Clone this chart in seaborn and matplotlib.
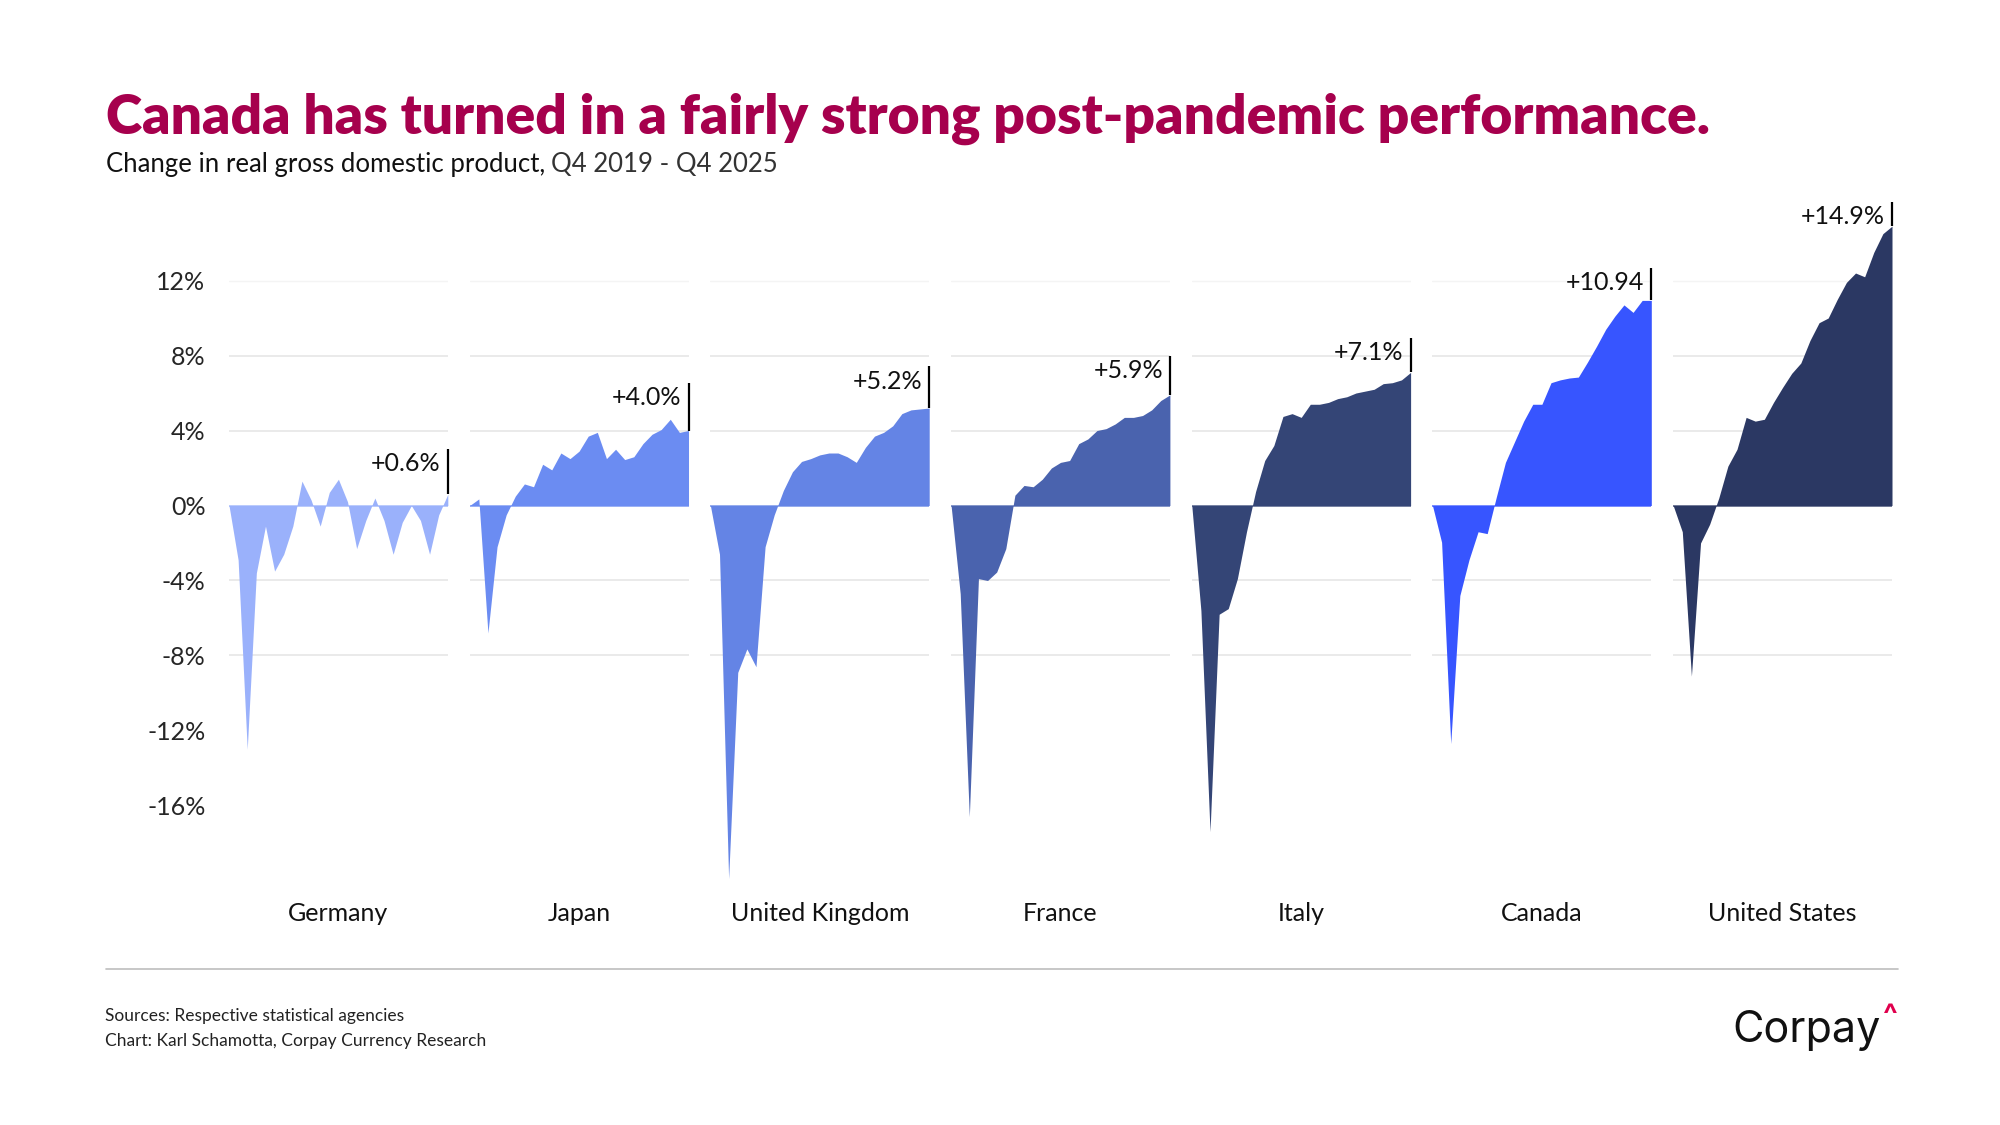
# small multiples of real GDP change since Q4 2019, one area panel per country

import pandas as pd
import matplotlib.pyplot as plt
import seaborn as sns

countries = ['Germany', 'Japan', 'United Kingdom', 'France', 'Italy', 'Canada', 'United States']

quarters = ['Q4 2019'] + ['Q%d %d' % (q, y) for y in range(2020, 2026) for q in range(1, 5)]

germany = [0, -2.9, -13.0, -3.6, -1.1, -3.5, -2.6, -1.1, 1.3, 0.3, -1.1, 0.7, 1.4,
           0.2, -2.3, -0.8, 0.4, -0.8, -2.6, -0.9, 0.0, -0.8, -2.6, -0.5, 0.6]
japan = [0, 0.35, -6.8, -2.2, -0.5, 0.5, 1.15, 1.0, 2.2, 1.9, 2.8, 2.5, 2.9,
         3.7, 3.9, 2.5, 3.0, 2.45, 2.6, 3.3, 3.8, 4.05, 4.6, 3.9, 4.0]
uk = [0, -2.6, -19.9, -8.9, -7.65, -8.6, -2.2, -0.5, 0.8, 1.8, 2.35, 2.5, 2.7,
      2.8, 2.8, 2.6, 2.3, 3.1, 3.7, 3.9, 4.25, 4.9, 5.1, 5.15, 5.2]
france = [0, -4.7, -16.6, -3.9, -4.0, -3.55, -2.3, 0.55, 1.07, 1.0, 1.4, 2.0, 2.3,
          2.4, 3.3, 3.55, 4.0, 4.1, 4.35, 4.7, 4.7, 4.8, 5.1, 5.6, 5.9]
italy = [0, -5.6, -17.4, -5.8, -5.5, -3.9, -1.4, 0.75, 2.4, 3.2, 4.75, 4.9, 4.7,
         5.4, 5.4, 5.5, 5.7, 5.8, 6.0, 6.1, 6.2, 6.5, 6.55, 6.7, 7.1]
canada = [0, -1.96, -12.7, -4.8, -2.9, -1.4, -1.5, 0.45, 2.3, 3.4, 4.5, 5.4, 5.4,
          6.55, 6.7, 6.8, 6.85, 7.65, 8.5, 9.4, 10.1, 10.7, 10.3, 10.94, 10.94]
us = [0, -1.4, -9.1, -2.0, -1.0, 0.4, 2.1, 3.0, 4.7, 4.5, 4.6, 5.5, 6.3,
      7.05, 7.6, 8.8, 9.75, 10.0, 11.0, 11.9, 12.4, 12.2, 13.5, 14.5, 14.9]

end_labels = ['+0.6%', '+4.0%', '+5.2%', '+5.9%', '+7.1%', '+10.94', '+14.9%']

ytick_values = [-16, -12, -8, -4, 0, 4, 8, 12]
ytick_labels = ['-16%', '-12%', '-8%', '-4%', '0%', '4%', '8%', '12%']

series = [germany, japan, uk, france, italy, canada, us]

colors = {'Germany': '#9AB1FB', 'Japan': '#6B8CF2', 'United Kingdom': '#6484E5',
          'France': '#4A63AE', 'Italy': '#344576', 'Canada': '#3755FF',
          'United States': '#2B3863'}

# how high the end label sits above the last value, in % units
label_lift = [1.65, 1.76, 1.44, 1.28, 1.07, 0.96, 0.53]

rows = []
for name, vals in zip(countries, series):
    for i, v in enumerate(vals):
        rows.append({'country': name, 'q': i, 'quarter': quarters[i], 'value': v})
df = pd.DataFrame(rows)

sns.set_theme(style='white')
plt.rcParams['font.family'] = ['Lato', 'DejaVu Sans']

crimson = '#A6004D'
gridc = '#e4e4e4'


def draw_area(data, color, **kws):
    ax = plt.gca()
    for lvl in [-8, -4, 4, 8]:
        ax.axhline(lvl, color=gridc, lw=1.1, zorder=0)
    ax.axhline(12, color='#f4f4f4', lw=1.0, zorder=0)
    ax.fill_between(data['q'], data['value'], 0, color=color, lw=0, zorder=2)
    ax.axhline(0, color=color, lw=1.2, alpha=0.8, zorder=1)


g = sns.FacetGrid(df, col='country', hue='country', col_order=countries,
                  hue_order=countries, palette=colors, sharey=True, sharex=True,
                  height=4, aspect=0.6)
g.map_dataframe(draw_area)
g.set_titles('')
g.set_axis_labels('', '')
g.despine(left=True, bottom=True)

fig = g.figure
fig.set_size_inches(20, 11.25)
fig.subplots_adjust(left=0.1145, right=0.946, bottom=0.2007, top=0.8173, wspace=0.1)

last_q = len(quarters) - 1
for k, (ax, name) in enumerate(zip(g.axes.flat, countries)):
    ax.set_xlim(0, last_q)
    ax.set_ylim(-21, 16)
    ax.set_xticks([])
    ax.set_yticks(ytick_values)
    ax.tick_params(axis='y', length=0, pad=17, labelsize=18)
    if k == 0:
        ax.set_yticklabels(ytick_labels)
    else:
        ax.tick_params(axis='y', labelleft=False)
    ax.text(0.5, -0.02, name, transform=ax.transAxes, ha='center', va='center',
            fontsize=18, color='#111111')

    last = series[k][-1]
    ytxt = last + label_lift[k]
    ax.vlines(last_q, last, ytxt + 0.78, color='black', lw=1.6, clip_on=False, zorder=3)
    ax.annotate(end_labels[k], xy=(last_q, ytxt), xytext=(-5, 0),
                textcoords='offset points', ha='right', va='center',
                fontsize=18, color='#111111', annotation_clip=False)

# title block
fig.text(0.053, 0.881, 'Canada has turned in a fairly strong post-pandemic performance.',
         fontsize=39.7, fontweight='heavy', color=crimson, va='baseline')
sub1 = fig.text(0.053, 0.8475, 'Change in real gross domestic product,',
                fontsize=18.5, color='#111111', va='baseline')
fig.canvas.draw()
bb = sub1.get_window_extent()
fig.text(bb.x1 / fig.bbox.width + 0.003, 0.8475, 'Q4 2019 - Q4 2025',
         fontsize=18.5, color='#333333', va='baseline')

# footer
fig.add_artist(plt.Line2D([0.053, 0.949], [0.139, 0.139], color='#bdbdbd', lw=1.2,
                          transform=fig.transFigure))
fig.text(0.0525, 0.0965, 'Sources: Respective statistical agencies', fontsize=12.5,
         color='#222222', va='center')
fig.text(0.0525, 0.0745, 'Chart: Karl Schamotta, Corpay Currency Research', fontsize=12.5,
         color='#222222', va='center')
fig.text(0.9405, 0.084, 'Corpay', fontsize=31, color='#111111', va='center', ha='right',
         family=['Inter', 'DejaVu Sans'])
fig.text(0.9415, 0.096, '^', fontsize=22, color='#E0004D', va='center', ha='left',
         fontweight='bold', family=['Inter', 'DejaVu Sans'])

fig.savefig('out.png', dpi=100, facecolor='white')
